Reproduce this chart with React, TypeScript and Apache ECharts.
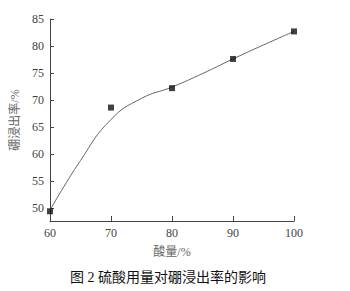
import React, { useEffect, useRef } from "react";
import * as echarts from "echarts";

const xTicks = [60, 70, 80, 90, 100];
const measured: [number, number][] = [
  [60, 49.4],
  [70, 68.6],
  [80, 72.2],
  [90, 77.6],
  [100, 82.7],
];
const fitX = [60, 65, 70, 75, 80, 85, 90, 95, 100];
const fitY = [49.6, 58.8, 66.4, 70.3, 72.4, 74.9, 77.6, 80.2, 82.7];
const xName = "酸量/%";
const yName = "硼浸出率/%";
const caption = "图 2 硫酸用量对硼浸出率的影响";

const FONT = '"Liberation Serif", "Noto Sans CJK SC", serif';

export default function App() {
  const ref = useRef<HTMLDivElement>(null);
  useEffect(() => {
    document.body.style.margin = "0";
    const chart = echarts.init(ref.current!, null, { renderer: "svg" });
    chart.setOption({
      animation: false,
      backgroundColor: "#ffffff",
      grid: { left: 50, right: 56, top: 19, bottom: 70, containLabel: false },
      xAxis: {
        type: "value",
        min: 60,
        max: 100,
        interval: 10,
        name: xName,
        nameLocation: "middle",
        nameGap: 25,
        nameTextStyle: { fontFamily: FONT, fontSize: 12, color: "#666" },
        axisLine: { lineStyle: { color: "#444", width: 1 } },
        axisTick: { inside: true, length: 5, lineStyle: { color: "#444" } },
        axisLabel: {
          fontFamily: FONT,
          fontSize: 12,
          color: "#444",
          margin: 6,
          formatter: (v: number) => (xTicks.includes(v) ? String(v) : ""),
        },
        splitLine: { show: false },
      },
      yAxis: {
        type: "value",
        min: 47.6,
        max: 85,
        minInterval: 5,
        maxInterval: 5,
        name: yName,
        nameLocation: "middle",
        nameGap: 17,
        nameTextStyle: { fontFamily: FONT, fontSize: 12, color: "#666" },
        axisLine: { lineStyle: { color: "#444", width: 1 } },
        axisTick: { inside: true, length: 4, lineStyle: { color: "#444" } },
        axisLabel: {
          fontFamily: FONT,
          fontSize: 12,
          color: "#444",
          margin: 6,
          showMinLabel: false,
          formatter: (v: number) => (v % 5 === 0 ? String(v) : ""),
        },
        splitLine: { show: false },
      },
      series: [
        {
          type: "line",
          data: fitX.map((x, i) => [x, fitY[i]]),
          smooth: 0.5,
          showSymbol: false,
          symbol: "none",
          lineStyle: { color: "#666", width: 1 },
          z: 2,
        },
        {
          type: "scatter",
          data: measured,
          symbol: "rect",
          symbolSize: 6,
          itemStyle: { color: "#111" },
          z: 3,
        },
      ],
      graphic: [
        {
          type: "text",
          x: 168,
          y: 277,
          style: {
            text: caption,
            fontFamily: FONT,
            fontSize: 14,
            fill: "#111",
            align: "center",
            verticalAlign: "middle",
          },
        },
      ],
    });
    return () => chart.dispose();
  }, []);
  return <div ref={ref} style={{ width: 350, height: 291 }} />;
}
